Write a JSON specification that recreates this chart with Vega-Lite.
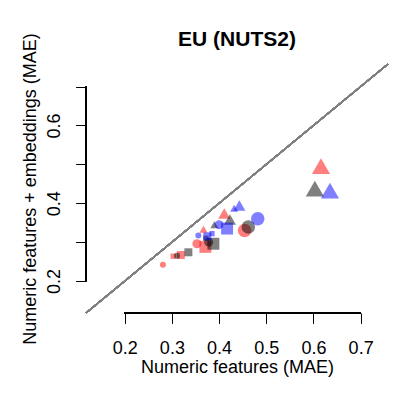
{
  "$schema": "https://vega.github.io/schema/vega-lite/v6.json",
  "width": 302,
  "height": 249,
  "autosize": {"type": "none"},
  "padding": {"left": 86, "top": 64, "right": 11, "bottom": 86},
  "background": "white",
  "config": {"view": {"stroke": null}, "font": "Liberation Sans"},
  "title": {"text": "EU (NUTS2)", "font": "Liberation Sans", "fontSize": 21, "fontWeight": "bold", "color": "black", "anchor": "middle", "baseline": "alphabetic", "offset": 18.5, "dy": 53},
  "data": {"values": [
    {"group": "red", "shape": "triangle", "size": "L", "numeric": 0.616, "embed": 0.489},
    {"group": "red", "shape": "triangle", "size": "M", "numeric": 0.411, "embed": 0.369},
    {"group": "red", "shape": "triangle", "size": "S", "numeric": 0.367, "embed": 0.330},
    {"group": "red", "shape": "circle", "size": "L", "numeric": 0.454, "embed": 0.330},
    {"group": "red", "shape": "circle", "size": "M", "numeric": 0.353, "embed": 0.296},
    {"group": "red", "shape": "circle", "size": "S", "numeric": 0.281, "embed": 0.242},
    {"group": "red", "shape": "square", "size": "L", "numeric": 0.371, "embed": 0.288},
    {"group": "red", "shape": "square", "size": "M", "numeric": 0.319, "embed": 0.267},
    {"group": "red", "shape": "square", "size": "S", "numeric": 0.303, "embed": 0.264},
    {"group": "black", "shape": "triangle", "size": "L", "numeric": 0.603, "embed": 0.431},
    {"group": "black", "shape": "triangle", "size": "M", "numeric": 0.423, "embed": 0.354},
    {"group": "black", "shape": "triangle", "size": "S", "numeric": 0.390, "embed": 0.342},
    {"group": "black", "shape": "circle", "size": "L", "numeric": 0.462, "embed": 0.339},
    {"group": "black", "shape": "circle", "size": "M", "numeric": 0.378, "embed": 0.300},
    {"group": "black", "shape": "circle", "size": "S", "numeric": 0.311, "embed": 0.265},
    {"group": "black", "shape": "square", "size": "L", "numeric": 0.388, "embed": 0.296},
    {"group": "black", "shape": "square", "size": "M", "numeric": 0.335, "embed": 0.274},
    {"group": "black", "shape": "square", "size": "S", "numeric": 0.372, "embed": 0.310},
    {"group": "blue", "shape": "triangle", "size": "L", "numeric": 0.635, "embed": 0.426},
    {"group": "blue", "shape": "triangle", "size": "M", "numeric": 0.443, "embed": 0.390},
    {"group": "blue", "shape": "triangle", "size": "S", "numeric": 0.432, "embed": 0.384},
    {"group": "blue", "shape": "circle", "size": "L", "numeric": 0.482, "embed": 0.360},
    {"group": "blue", "shape": "circle", "size": "M", "numeric": 0.400, "embed": 0.345},
    {"group": "blue", "shape": "circle", "size": "S", "numeric": 0.356, "embed": 0.317},
    {"group": "blue", "shape": "square", "size": "L", "numeric": 0.417, "embed": 0.335},
    {"group": "blue", "shape": "square", "size": "M", "numeric": 0.375, "embed": 0.315},
    {"group": "blue", "shape": "square", "size": "S", "numeric": 0.385, "embed": 0.322}
  ]},
  "layer": [
    {
      "mark": {"type": "point", "filled": true, "opacity": 0.5, "strokeWidth": 0},
      "encoding": {
        "x": {
          "field": "numeric", "type": "quantitative",
          "scale": {"domain": [0.118, 0.758], "nice": false, "zero": false},
          "axis": {"values": [0.2, 0.3, 0.4, 0.5, 0.6, 0.7], "format": ".1f", "domain": false, "grid": false,
            "tickSize": 10.4, "tickColor": "black", "tickWidth": 1, "labelFont": "Liberation Sans", "labelFontSize": 18, "labelColor": "black",
            "labelBaseline": "alphabetic", "labelPadding": 30, "labelFlush": false, "labelOverlap": false,
            "title": "Numeric features (MAE)", "titleFont": "Liberation Sans", "titleFontSize": 18, "titleFontWeight": "normal", "titleColor": "black",
            "titleBaseline": "alphabetic", "titlePadding": 15}
        },
        "y": {
          "field": "embed", "type": "quantitative",
          "scale": {"domain": [0.118, 0.758], "nice": false, "zero": false},
          "axis": {"values": [0.2, 0.3, 0.4, 0.5, 0.6, 0.7], "format": ".1f", "domain": false, "grid": false,
            "labelExpr": "indexof(['0.2', '0.4', '0.6'], datum.label) >= 0 ? datum.label : ''",
            "tickSize": 10.4, "tickColor": "black", "tickWidth": 1, "labelFont": "Liberation Sans", "labelFontSize": 18, "labelColor": "black",
            "labelAngle": 270, "labelAlign": "center", "labelBaseline": "alphabetic", "labelPadding": 16, "labelFlush": false, "labelOverlap": false,
            "title": "Numeric features + embeddings (MAE)", "titleFont": "Liberation Sans", "titleFontSize": 18, "titleFontWeight": "normal", "titleColor": "black",
            "titleBaseline": "alphabetic", "titlePadding": 10}
        },
        "color": {"field": "group", "type": "nominal", "scale": {"domain": ["red", "black", "blue"], "range": ["#ff0000", "#000000", "#0000ff"]}, "legend": null},
        "shape": {"field": "shape", "type": "nominal", "scale": {"domain": ["circle", "square", "triangle"], "range": ["circle", "M-0.886,-0.886H0.886V0.886H-0.886Z", "M0,-1.555L1.347,0.778L-1.347,0.778Z"]}, "legend": null},
        "size": {"field": "size", "type": "nominal", "scale": {"type": "ordinal", "domain": ["S", "M", "L"], "range": [36, 81, 182]}, "legend": null}
      }
    },
    {
      "mark": {"type": "rule", "color": "#808080", "strokeWidth": 1.2},
      "encoding": {
        "x": {"datum": 0.118, "type": "quantitative"},
        "y": {"datum": 0.118, "type": "quantitative"},
        "x2": {"datum": 0.758},
        "y2": {"datum": 0.758}
      }
    },
    {
      "mark": {"type": "rule", "color": "black", "strokeWidth": 1},
      "encoding": {
        "x": {"datum": 0.2, "type": "quantitative"},
        "x2": {"datum": 0.7},
        "y": {"datum": 0.118, "type": "quantitative"}
      }
    },
    {
      "mark": {"type": "rule", "color": "black", "strokeWidth": 1},
      "encoding": {
        "y": {"datum": 0.2, "type": "quantitative"},
        "y2": {"datum": 0.7},
        "x": {"datum": 0.118, "type": "quantitative"}
      }
    }
  ]
}
